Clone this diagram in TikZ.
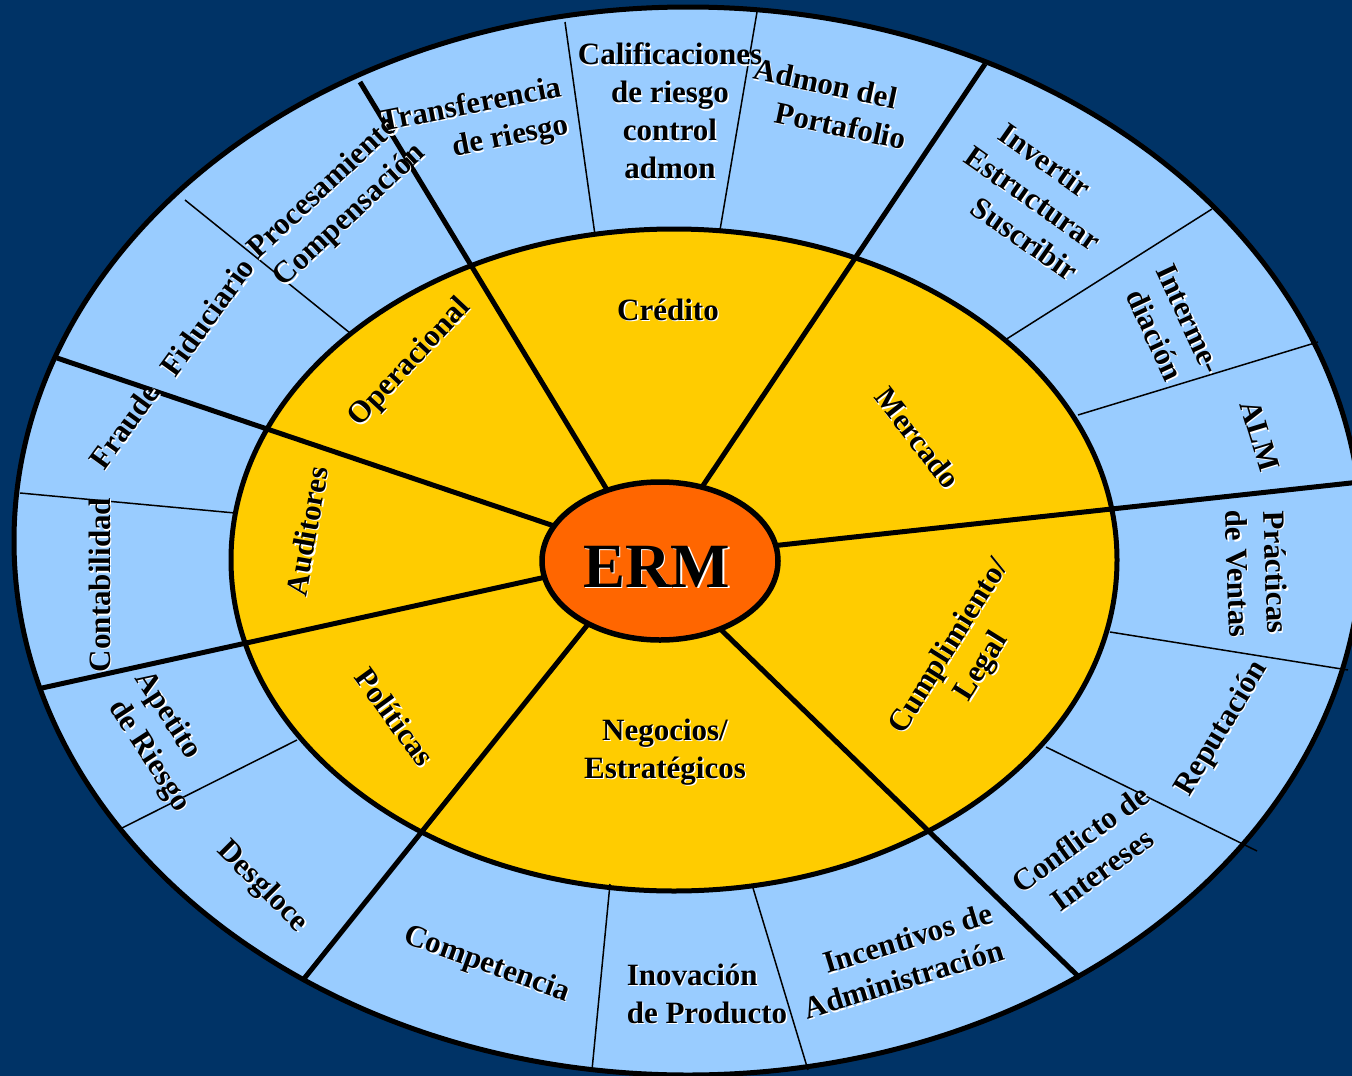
\documentclass[tikz,border=0pt]{standalone}
\usepackage{fontspec}
\setmainfont{Liberation Serif}
\definecolor{navy}{HTML}{003366}
\definecolor{ringblue}{HTML}{99CCFF}
\definecolor{ringgold}{HTML}{FFCC00}
\definecolor{ermorange}{HTML}{FF6600}
\tikzset{
  rtext/.style={font=\bfseries\fontsize{31}{38}\selectfont, align=center, inner sep=0pt},
  divider/.style={line width=5},
  splitter/.style={line width=1.5},
}
% white shadow under each label
\newcommand\riesgo[4]{%
  \node[rtext, text=white, xshift=1.3pt, yshift=-1.3pt, #1] at (#3) {#4};
  \node[rtext, #1] (#2) at (#3) {#4};}
\begin{document}
\begin{tikzpicture}[x=1pt, y=-1pt]
  \useasboundingbox (0,0) rectangle (1352,1076);
  \clip (0,0) rectangle (1352,1076);
  \fill[navy] (0,0) rectangle (1352,1076);
  \filldraw[fill=ringblue, line width=5] (688,541) ellipse (674 and 534);
  \fill[ringgold] (674,560) ellipse (443 and 331);
  \draw[splitter] (350,333) -- (185,200);
  \draw[splitter] (235,513) -- (20,493);
  \draw[splitter] (297,740) -- (122,828);
  \draw[splitter] (610,884) -- (592,1070);
  \draw[splitter] (753,888) -- (808,1070);
  \draw[splitter] (1046,747) -- (1257,851);
  \draw[splitter] (1110,632) -- (1348,670);
  \draw[splitter] (1078,415) -- (1318,342);
  \draw[splitter] (1005,340) -- (1212,209);
  \draw[splitter] (720,230) -- (757,12);
  \draw[splitter] (595,235) -- (565,22);
  \draw[line width=5] (674,560) ellipse (443 and 331);
  \draw[divider] (615,503) -- (360,82);
  \draw[divider] (692,502) -- (985,64);
  \draw[divider] (762,547) -- (1360,482);
  \draw[divider] (711,620) -- (1080,978);
  \draw[divider] (597,613) -- (303,980);
  \draw[divider] (555,575) -- (42,688);
  \draw[divider] (566,530) -- (57,358);
  \filldraw[fill=ermorange, line width=5.5] (660,561) ellipse (118 and 79);
  \riesgo{font=\bfseries\fontsize{63}{63}\selectfont, xshift=0.7pt, yshift=-0.7pt}{erm}{656,566}{ERM}
  % yellow ring
  \riesgo{}{credito}{668,310}{Crédito}
  \riesgo{rotate=-52}{mercado}{918,438}{Mercado}
  \riesgo{rotate=58}{cumplimiento}{966,657}{Cumplimiento/\\Legal}
  \riesgo{}{negocios}{665,752}{Negocios/\\Estratégicos}
  \riesgo{rotate=-54}{politicas}{395,717}{Políticas}
  \riesgo{rotate=80}{auditores}{307,531}{Auditores}
  \riesgo{rotate=47}{operacional}{410,363}{Operacional}
  % blue ring
  \riesgo{rotate=43}{procesamiento}{337,202}{Procesamiento\\Compensación}
  \riesgo{rotate=11, align=right}{transferencia}{475,125}{Transferencia\\de riesgo}
  \riesgo{}{calificaciones}{670,111}{Calificaciones\\de riesgo\\control\\admon}
  \riesgo{rotate=-12, align=left}{portafolio}{830,104}{Admon del\\\hspace*{30pt}Portafolio}
  \riesgo{rotate=-35, align=left}{invertir}{1033,198}{\hspace*{15pt}Invertir\\Estructurar\\\hspace*{35pt}Suscribir}
  \riesgo{rotate=-65}{intermediacion}{1172,327}{Interme-\\diación}
  \riesgo{rotate=-73}{alm}{1260,436}{ALM}
  \riesgo{rotate=-88}{practicas}{1257,573}{Prácticas\\de Ventas}
  \riesgo{rotate=59}{reputacion}{1222,729}{Reputación}
  \riesgo{rotate=36}{conflicto}{1091,854}{Conflicto de\\Intereses}
  \riesgo{rotate=17, align=right}{incentivos}{898,961}{Incentivos de\\Administración}
  \riesgo{align=left}{inovacion}{707,994}{Inovación\\de Producto}
  \riesgo{rotate=-20}{competencia}{487,965}{Competencia}
  \riesgo{rotate=-45}{desgloce}{262,887}{Desgloce}
  \riesgo{rotate=-57, align=left}{apetito}{162,742}{Apetito\\\hspace*{10pt}de Riesgo}
  \riesgo{rotate=90}{contabilidad}{100,585}{Contabilidad}
  \riesgo{rotate=54}{fraude}{124,426}{Fraude}
  \riesgo{rotate=54}{fiduciario}{207,317}{Fiduciario}
\end{tikzpicture}
\end{document}
